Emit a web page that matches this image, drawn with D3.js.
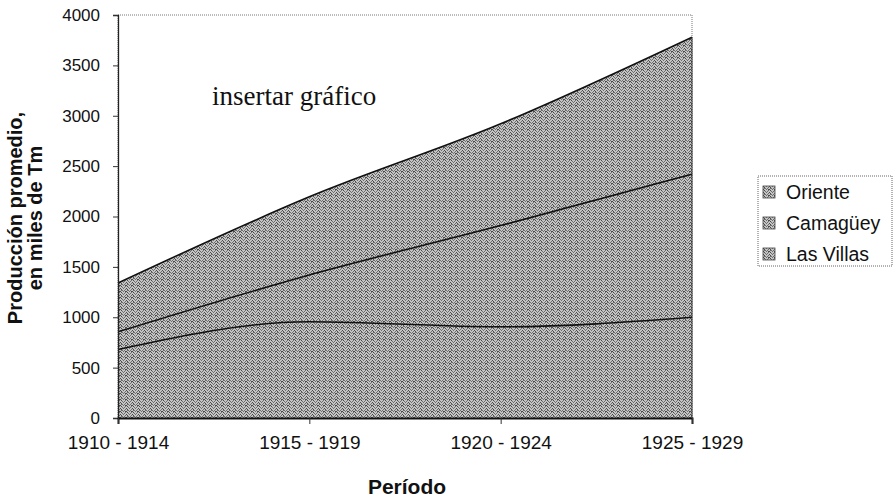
<!DOCTYPE html>
<html>
<head>
<meta charset="utf-8">
<script src="https://cdn.jsdelivr.net/npm/d3@7"></script>
<style>
  body { margin: 0; background: #fff; }
  text { font-family: "Liberation Sans", Arial, sans-serif; fill: #111; }
</style>
</head>
<body>
<svg id="chart" width="896" height="500"></svg>
<script>
// data (miles de Tm)
var periodos = ["1910 - 1914", "1915 - 1919", "1920 - 1924", "1925 - 1929"];
var lasVillas = [680, 955, 905, 1000];
var camaguey = [175, 465, 1005, 1420];
var oriente = [485, 775, 1010, 1360];
var series = ["Las Villas", "Camagüey", "Oriente"];   // stacking order, bottom first
var legendOrder = ["Oriente", "Camagüey", "Las Villas"];
var yTicks = [0, 500, 1000, 1500, 2000, 2500, 3000, 3500, 4000];

var svg = d3.select("#chart");
// careful: "top" is window.top, so use other names
var mLeft = 118, mTop = 15, mRight = 692, mBottom = 418;

var rows = periodos.map(function(p, i) {
    return {periodo: p, "Las Villas": lasVillas[i], "Camagüey": camaguey[i], "Oriente": oriente[i]};
});

var stack = d3.stack().keys(series);
var layers = stack(rows);

var x = d3.scalePoint().domain(periodos).range([mLeft, mRight]).padding(0);
var y = d3.scaleLinear().domain([0, 4000]).range([mBottom, mTop]);

// stipple fill, hand-placed dark pixels in a 6x6 tile
var speck = [[0,0],[3,0],[5,1],[1,1],[2,2],[4,2],[0,3],[3,3],[5,4],[1,4],[2,5],[4,5],[5,3],[1,2]];
var defs = svg.append("defs");
var pat = defs.append("pattern")
    .attr("id", "stip")
    .attr("width", 6).attr("height", 6)
    .attr("patternUnits", "userSpaceOnUse");
pat.append("rect").attr("width", 6).attr("height", 6).attr("fill", "#c4c4c4");
pat.selectAll("rect.s")
    .data(speck)
    .enter()
    .append("rect")
    .attr("class", "s")
    .attr("x", function(d) { return d[0]; })
    .attr("y", function(d) { return d[1]; })
    .attr("width", 1).attr("height", 1)
    .attr("fill", function(d, i) { return i % 3 === 0 ? "#4a4a4a" : "#6e6e6e"; });

// plot border (dotted)
svg.append("rect")
    .attr("x", mLeft).attr("y", mTop)
    .attr("width", mRight - mLeft).attr("height", mBottom - mTop)
    .attr("fill", "none")
    .attr("stroke", "#777")
    .attr("stroke-dasharray", "1,1");

var area = d3.area()
    .curve(d3.curveMonotoneX)
    .x(function(d) { return x(d.data.periodo); })
    .y0(function(d) { return y(d[0]); })
    .y1(function(d) { return y(d[1]); });

svg.append("g").selectAll("path")
    .data(layers)
    .enter()
    .append("path")
    .attr("d", area)
    .attr("fill", "url(#stip)");

var line = d3.line()
    .curve(d3.curveMonotoneX)
    .x(function(d) { return x(d.data.periodo); })
    .y(function(d) { return y(d[1]); });

svg.append("g").selectAll("path")
    .data(layers)
    .enter()
    .append("path")
    .attr("d", line)
    .attr("fill", "none")
    .attr("stroke", "#111")
    .attr("stroke-width", 1.6);

// right edge of the area
svg.append("line")
    .attr("x1", mRight).attr("x2", mRight)
    .attr("y1", y(0)).attr("y2", y(layers[2][3][1]))
    .attr("stroke", "#333").attr("stroke-width", 1);

// axes
var yAxis = svg.append("g")
    .attr("transform", "translate(" + mLeft + ",0)")
    .call(d3.axisLeft(y).tickValues(yTicks).tickFormat(d3.format("d")).tickSize(5).tickPadding(13));
yAxis.select(".domain").attr("stroke", "#222").attr("stroke-width", 1.3);
yAxis.selectAll("line").attr("stroke", "#333");
yAxis.selectAll("text").style("font-size", "17px").attr("fill", "#111");

var xAxis = svg.append("g")
    .attr("transform", "translate(0," + mBottom + ")")
    .call(d3.axisBottom(x).tickSize(6).tickPadding(12));
xAxis.select(".domain").attr("stroke", "#111").attr("stroke-width", 2);
xAxis.selectAll("line").attr("stroke", "#333");
xAxis.selectAll("text").style("font-size", "19px").attr("fill", "#111");

// note text
svg.append("text")
    .attr("x", 212).attr("y", 105)
    .style("font-family", "'Liberation Serif', 'Times New Roman', serif")
    .style("font-size", "27px")
    .text("insertar gráfico");

// axis titles
svg.append("text")
    .attr("x", 407).attr("y", 494)
    .attr("text-anchor", "middle")
    .style("font-size", "21px").style("font-weight", "bold")
    .text("Período");

var yt = svg.append("text")
    .attr("transform", "translate(22,218) rotate(-90)")
    .attr("text-anchor", "middle")
    .style("font-size", "20px").style("font-weight", "bold");
yt.append("tspan").attr("x", 0).attr("dy", 0).text("Producción promedio,");
yt.append("tspan").attr("x", 0).attr("dy", 20).text("en miles de Tm");

// legend
var lg = svg.append("g");
lg.append("rect")
    .attr("x", 758).attr("y", 176)
    .attr("width", 134).attr("height", 90)
    .attr("fill", "#fff")
    .attr("stroke", "#666")
    .attr("stroke-dasharray", "1,1");

var items = lg.selectAll("g.item")
    .data(legendOrder)
    .enter()
    .append("g")
    .attr("class", "item")
    .attr("transform", function(d, i) { return "translate(763," + (192 + i * 31) + ")"; });
items.append("rect")
    .attr("x", 0).attr("y", -6)
    .attr("width", 12).attr("height", 12)
    .attr("fill", "url(#stip)")
    .attr("stroke", "#444")
    .attr("stroke-width", 0.8);
items.append("text")
    .attr("x", 23).attr("y", 7)
    .style("font-size", "19.5px")
    .text(function(d) { return d; });
</script>
</body>
</html>
